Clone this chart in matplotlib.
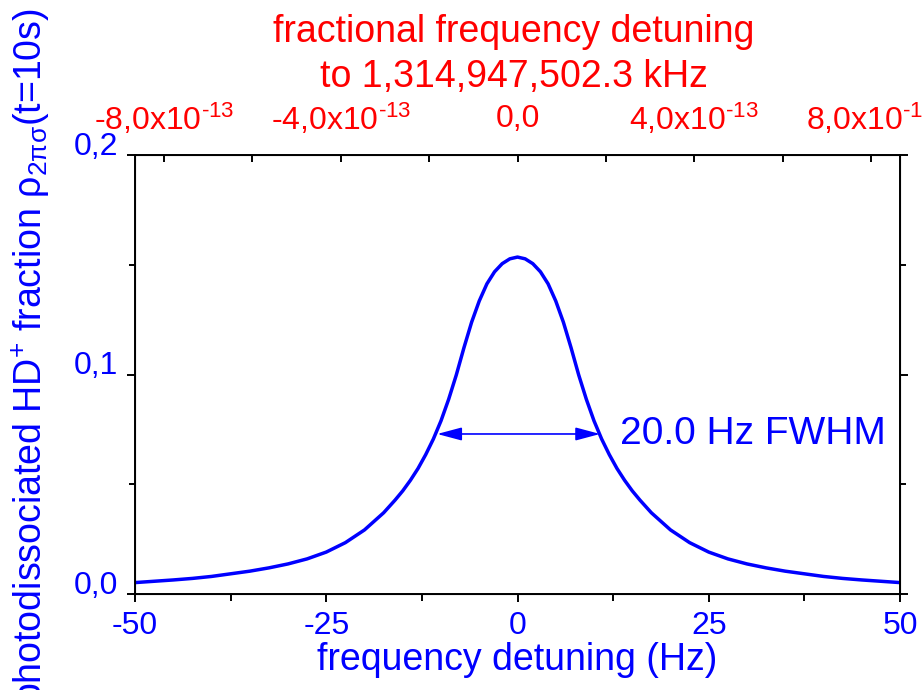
import matplotlib
matplotlib.use('Agg')
import matplotlib.pyplot as plt
from matplotlib.ticker import FixedLocator

# 字体：类似 Arial
plt.rcParams['font.family'] = ['Liberation Sans', 'DejaVu Sans']
plt.rcParams['mathtext.fontset'] = 'custom'
plt.rcParams['mathtext.rm'] = 'Liberation Sans'
plt.rcParams['mathtext.it'] = 'Liberation Sans:italic'
plt.rcParams['mathtext.bf'] = 'Liberation Sans:bold'
plt.rcParams['axes.unicode_minus'] = False

BLUE = '#0000FF'
RED = '#FF0000'

# 线型数据
detuning_hz = [-50, -47.5, -45, -42.5, -40, -37.5, -35, -32.5, -30, -27.5, -25,
               -22.5, -20, -17.5, -16, -15, -14, -13, -12, -11, -10, -9, -8,
               -7, -6, -5, -4, -3, -2, -1, 0, 1, 2, 3, 4, 5, 6, 7, 8, 9, 10,
               11, 12, 13, 14, 15, 16, 17.5, 20, 22.5, 25, 27.5, 30, 32.5, 35,
               37.5, 40, 42.5, 45, 47.5, 50]
fraction = [0.0052, 0.0058, 0.0064, 0.0071, 0.0080, 0.0092, 0.0104, 0.0119,
            0.0137, 0.0160, 0.0191, 0.0234, 0.0292, 0.0370, 0.0428, 0.0470,
            0.0518, 0.0572, 0.0635, 0.0706, 0.0789, 0.0887, 0.0998, 0.1122,
            0.1238, 0.1335, 0.1413, 0.1468, 0.1505, 0.1527, 0.1535, 0.1527,
            0.1505, 0.1468, 0.1413, 0.1335, 0.1238, 0.1122, 0.0998, 0.0887,
            0.0789, 0.0706, 0.0635, 0.0572, 0.0518, 0.0470, 0.0428, 0.0370,
            0.0292, 0.0234, 0.0191, 0.0160, 0.0137, 0.0119, 0.0104, 0.0092,
            0.0080, 0.0071, 0.0064, 0.0058, 0.0052]

# 半高宽箭头
fwhm_left = -10.5
fwhm_right = 10.8
fwhm_level = 0.0729

x_ticks = [-50, -25, 0, 25, 50]
x_ticklabels = ['-50', '-25', '0', '25', '50']
y_ticks = [0.0, 0.1, 0.2]
y_ticklabels = ['0,0', '0,1', '0,2']

top_ticks = [-8e-13, -4e-13, 0, 4e-13, 8e-13]
top_minor = [-6e-13, -2e-13, 2e-13, 6e-13]
top_ticklabels = ['-8,0x10$^{\\text{-13}}$', '-4,0x10$^{\\text{-13}}$', '0,0',
                  '4,0x10$^{\\text{-13}}$', '8,0x10$^{\\text{-13}}$']
top_limit = 8.66e-13

fig = plt.figure(figsize=(9.22, 6.9), dpi=100)
ax = fig.add_axes([135 / 922, 1 - 594 / 690, 765 / 922, 439 / 690])

ax.plot(detuning_hz, fraction, color=BLUE, lw=2.5)
ax.annotate('', xy=(fwhm_left, fwhm_level), xytext=(fwhm_right, fwhm_level),
            arrowprops=dict(arrowstyle='<|-|>,head_length=1.5,head_width=0.4',
                            color=BLUE, lw=1.2, mutation_scale=10,
                            shrinkA=0, shrinkB=0))
ax.text(13.4, 0.0683, '20.0 Hz FWHM', color=BLUE, fontsize=28,
        ha='left', va='baseline')

ax.set_xlim(-50, 50)
ax.set_ylim(0, 0.2)
ax.set_xticks(x_ticks, x_ticklabels)
ax.set_yticks(y_ticks, y_ticklabels, va='baseline')
ax.xaxis.set_minor_locator(FixedLocator([-37.5, -12.5, 12.5, 37.5]))
ax.yaxis.set_minor_locator(FixedLocator([0.05, 0.15]))
ax.tick_params(which='both', direction='out', width=1.4, color='black',
               labelcolor=BLUE, labelsize=23, right=True)
ax.tick_params(axis='x', which='major', length=6, pad=6)
ax.tick_params(axis='x', which='minor', length=5)
ax.tick_params(axis='y', which='major', length=6, pad=6)
ax.tick_params(axis='y', which='minor', length=4)
for s in ax.spines.values():
    s.set_linewidth(1.4)

# 上方分数频率轴
ax2 = ax.twiny()
ax2.set_xlim(-top_limit, top_limit)
ax2.set_xticks(top_ticks, top_ticklabels, va='center')
ax2.xaxis.set_minor_locator(FixedLocator(top_minor))
ax2.tick_params(which='both', direction='in', length=5, width=1.4,
                labelcolor=RED, labelsize=23, pad=26)

fig.text(514 / 922, 1 - 42 / 690, 'fractional frequency detuning',
         color=RED, fontsize=27, ha='center', va='baseline')
fig.text(514 / 922, 1 - 87 / 690, 'to 1,314,947,502.3 kHz',
         color=RED, fontsize=27, ha='center', va='baseline')
fig.text(517 / 922, 1 - 670 / 690, 'frequency detuning (Hz)',
         color=BLUE, fontsize=27, ha='center', va='baseline')
fig.text(42 / 922, 1 - 8 / 690,
         'photodissociated HD$^{+}$ fraction ρ$_{\\mathrm{2πσ}}$(t=10s)',
         color=BLUE, fontsize=27, rotation=90, rotation_mode='anchor',
         ha='right', va='baseline')

plt.savefig('out.png', dpi=100)
